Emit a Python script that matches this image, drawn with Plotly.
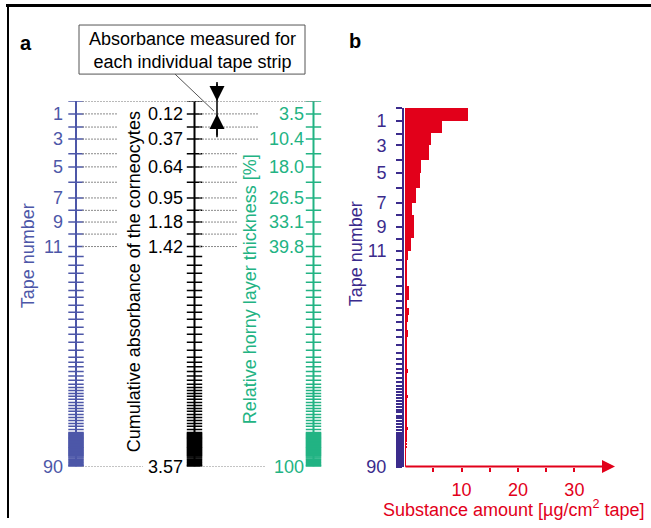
import plotly.graph_objects as go

# ---------------- data ----------------
tapes = list(range(1, 91))
# relative horny layer thickness [%] reached at the end of each tape strip
thickness = [3.5, 7.1, 10.4, 14.4, 18.0, 22.2, 26.5, 29.9, 33.1, 36.4, 39.8,
             42.5, 44.9, 47.1, 49.6, 51.8, 53.7, 55.9, 57.8, 59.7, 61.9, 63.8, 66.0, 68.2, 70.1,
             71.5, 72.7, 74.0, 75.2, 76.4, 77.5,
             78.4, 79.2, 80.0, 80.8, 81.6, 82.5, 83.3, 84.1, 84.9, 85.8, 86.6, 87.4, 88.2, 89.0, 89.9, 90.7,
             90.9, 91.1, 91.3, 91.5, 91.7, 91.9, 92.1, 92.3, 92.5, 92.7,
             92.9, 93.1, 93.3, 93.5, 93.7, 93.9, 94.1, 94.3, 94.5, 94.7,
             94.9, 95.1, 95.3, 95.5, 95.7, 95.9, 96.1, 96.3, 96.5, 96.7,
             96.9, 97.1, 97.4, 97.7, 98.0, 98.3, 98.6, 98.9, 99.2, 99.5,
             99.7, 99.9, 100.0]
# substance amount per tape [ug/cm2 tape]
amount = [11.2, 6.6, 4.6, 4.3, 2.9, 2.7, 2.0, 1.3, 1.5, 1.5, 1.1,
          0.45, 0.35, 0.35, 0.35, 0.6, 0.6, 0.35, 0.6, 0.55, 0.35, 0.5, 0.3, 0.25, 0.35,
          0.3, 0.25, 0.45, 0.3, 0.25, 0.3,
          0.25, 0.2, 0.3, 0.45, 0.35, 0.25, 0.2, 0.3, 0.25, 0.2, 0.2, 0.25, 0.2, 0.3, 0.45, 0.2,
          0.15, 0.2, 0.15, 0.2, 0.15, 0.2, 0.25, 0.2, 0.15, 0.2,
          0.15, 0.2, 0.15, 0.1, 0.15, 0.2, 0.15, 0.1, 0.15, 0.2,
          0.15, 0.1, 0.15, 0.1, 0.15, 0.1, 0.1, 0.15, 0.1, 0.1,
          0.15, 0.1, 0.1, 0.1, 0.15, 0.1, 0.1, 0.1, 0.1, 0.1,
          0.1, 0.1, 0.1]
labeled_tapes = [1, 3, 5, 7, 9, 11, 90]
tape_labels = ["1", "3", "5", "7", "9", "11", "90"]
absorb_labels = ["0.12", "0.37", "0.64", "0.95", "1.18", "1.42", "3.57"]
thick_labels = ["3.5", "10.4", "18.0", "26.5", "33.1", "39.8", "100"]
dotted_tapes = list(range(1, 12))
x_ticks = [5, 10, 15, 20, 25, 30]
x_ticklabels = ["", "10", "", "20", "", "30"]

# ---------------- styling / geometry ----------------
W, H = 651, 528
SY = 1 / 0.98          # compensates the vertical squeeze seen in the rendered picture
FONT = "Liberation Sans, Arial, sans-serif"
BLUE = "#4d57a8"
PURPLE = "#3b2b8c"
GREEN = "#22b383"
RED = "#e2001a"
GRAY = "#8a8a8a"
A_TOP, A_BOT = 101, 466
B_TOP, B_BOT = 108, 466
B_LEFT, B_RIGHT = 404, 615
AX_BLUE, AX_BLACK, AX_GREEN = 76, 194.5, 313.5


def px(x):
    return x / W


def py(y):
    return max(0.0, 1 - y * SY / H)


fig = go.Figure()

# ---------- panel a : three scales ----------
tick_pos = [0] + thickness
for xa, col in [(AX_BLUE, BLUE), (AX_BLACK, "black"), (AX_GREEN, GREEN)]:
    fig.add_trace(go.Scatter(x=[xa, xa], y=[0, 100], mode="lines",
                             line=dict(color=col, width=2), xaxis="x", yaxis="y",
                             hoverinfo="skip", showlegend=False))
    fig.add_trace(go.Scatter(x=[xa] * len(tick_pos), y=tick_pos, mode="markers",
                             marker=dict(symbol="line-ew", size=11,
                                         line=dict(color=col, width=1.5)),
                             xaxis="x", yaxis="y", hoverinfo="skip", showlegend=False))

# dotted guide lines
dx, dy = [], []
for tp in dotted_tapes:
    t = thickness[tp - 1]
    right_end = 258 if tp <= 3 else 237
    dx += [82, 118, None, 199, right_end, None]
    dy += [t, t, None, t, t, None]
dx += [82, 317, None, 82, 143, None, 200, 265, None]
dy += [0, 0, None, 100, 100, None, 100, 100, None]
fig.add_trace(go.Scatter(x=dx, y=dy, mode="lines",
                         line=dict(color=GRAY, width=1, dash="2px,1px"),
                         xaxis="x", yaxis="y", hoverinfo="skip", showlegend=False))

annotations = []
for tp, tl, al, hl in zip(labeled_tapes, tape_labels, absorb_labels, thick_labels):
    yv = thickness[tp - 1]
    for xx, txt, col in [(65, tl, BLUE), (185, al, "black"), (306, hl, GREEN)]:
        annotations.append(dict(x=xx, y=yv, xref="x", yref="y", text=txt,
                                showarrow=False, xanchor="right", yanchor="middle",
                                font=dict(family=FONT, size=18, color=col)))

# ---------- panel b : bars ----------
bounds = [0] + thickness
mids = [(bounds[i] + bounds[i + 1]) / 2 for i in range(len(thickness))]
widths = [bounds[i + 1] - bounds[i] for i in range(len(thickness))]
fig.add_trace(go.Bar(x=amount, y=mids, width=widths, base=0, orientation="h",
                     marker=dict(color=RED, line=dict(width=0)),
                     xaxis="x2", yaxis="y2", showlegend=False, hoverinfo="skip"))

label_map = {tp: lab for tp, lab in zip(labeled_tapes, tape_labels)}
ytickvals = [0] + thickness
yticktext = [""] + [label_map.get(tp, "") for tp in tapes]

# x axis arrow
annotations.append(dict(x=37.2, y=100, xref="x2", yref="y2", ax=-0.2, ay=100,
                        axref="x2", ayref="y2", text="", showarrow=True,
                        arrowhead=2, arrowsize=1.3, arrowwidth=2, arrowcolor=RED))

# ---------- titles ----------
titles = [
    dict(x=px(28), y=py(256), text="Tape number", textangle=-90,
         font=dict(family=FONT, size=18, color=BLUE)),
    dict(x=px(134), y=py(282), text="Cumulative absorbance of the corneocytes", textangle=-90,
         font=dict(family=FONT, size=18, color="black")),
    dict(x=px(250), y=py(289), text="Relative horny layer thickness [%]", textangle=-90,
         font=dict(family=FONT, size=18, color=GREEN)),
    dict(x=px(356), y=py(254), text="Tape number", textangle=-90,
         font=dict(family=FONT, size=18, color=PURPLE)),
    dict(x=px(514), y=py(508), text="Substance amount [µg/cm<sup>2</sup> tape]",
         font=dict(family=FONT, size=18, color=RED)),
    dict(x=px(26), y=py(43), text="<b>a</b>", font=dict(family=FONT, size=20, color="black")),
    dict(x=px(355), y=py(41), text="<b>b</b>", font=dict(family=FONT, size=20, color="black")),
    dict(x=px(192), y=py(50), text="Absorbance measured for<br>each individual tape strip",
         font=dict(family=FONT, size=18, color="black")),
]
for a in titles:
    a.update(xref="paper", yref="paper", showarrow=False, xanchor="center", yanchor="middle")
annotations += titles

# measurement arrows
annotations.append(dict(x=217, y=0, xref="x", yref="y", ax=0, ay=-19, text="",
                        showarrow=True, arrowhead=2, arrowsize=2, arrowwidth=1.5,
                        arrowcolor="black"))
annotations.append(dict(x=217, y=thickness[0], xref="x", yref="y", ax=0, ay=23, text="",
                        showarrow=True, arrowhead=2, arrowsize=2, arrowwidth=1.5,
                        arrowcolor="black"))

shapes = [
    # frame
    dict(type="line", xref="paper", yref="paper", x0=px(6), x1=1, y0=py(5.5), y1=py(5.5),
         line=dict(color="black", width=3)),
    dict(type="line", xref="paper", yref="paper", x0=px(8), x1=px(8), y0=py(4), y1=0,
         line=dict(color="black", width=2)),
    # callout box
    dict(type="rect", xref="paper", yref="paper", x0=px(79), x1=px(305), y0=py(25), y1=py(74),
         line=dict(color="#555555", width=1)),
    dict(type="line", xref="paper", yref="paper", x0=px(175), x1=px(214), y0=py(74), y1=py(111),
         line=dict(color="#555555", width=1)),
    dict(type="line", xref="paper", yref="paper", x0=px(217), x1=px(217), y0=py(82), y1=py(137),
         line=dict(color="black", width=1.5)),
]

fig.update_layout(
    width=W, height=H, margin=dict(l=0, r=0, t=0, b=0),
    paper_bgcolor="white", plot_bgcolor="rgba(0,0,0,0)",
    showlegend=False, bargap=0,
    xaxis=dict(domain=[0, 1], range=[0, W], visible=False, fixedrange=True),
    yaxis=dict(domain=[py(A_BOT), py(A_TOP)], range=[100, 0], visible=False, anchor="x"),
    xaxis2=dict(domain=[px(B_LEFT), px(B_RIGHT)], range=[-0.2, 37.2], anchor="y2",
                showgrid=False, zeroline=False, showline=False,
                tickmode="array", tickvals=x_ticks, ticktext=x_ticklabels,
                ticks="outside", ticklen=4, tickwidth=1.5, tickcolor=RED,
                ticklabelstandoff=3,
                tickfont=dict(family=FONT, size=18, color=RED)),
    yaxis2=dict(domain=[py(B_BOT), py(B_TOP)], range=[100, 0], anchor="x2",
                showgrid=False, zeroline=False, showline=True, linecolor=PURPLE, linewidth=2,
                tickmode="array", tickvals=ytickvals, ticktext=yticktext,
                ticks="outside", ticklen=6, tickwidth=1.5, tickcolor=PURPLE,
                ticklabelstandoff=6,
                tickfont=dict(family=FONT, size=18, color=PURPLE)),
    annotations=annotations,
    shapes=shapes,
)

fig.write_html("out.html")
